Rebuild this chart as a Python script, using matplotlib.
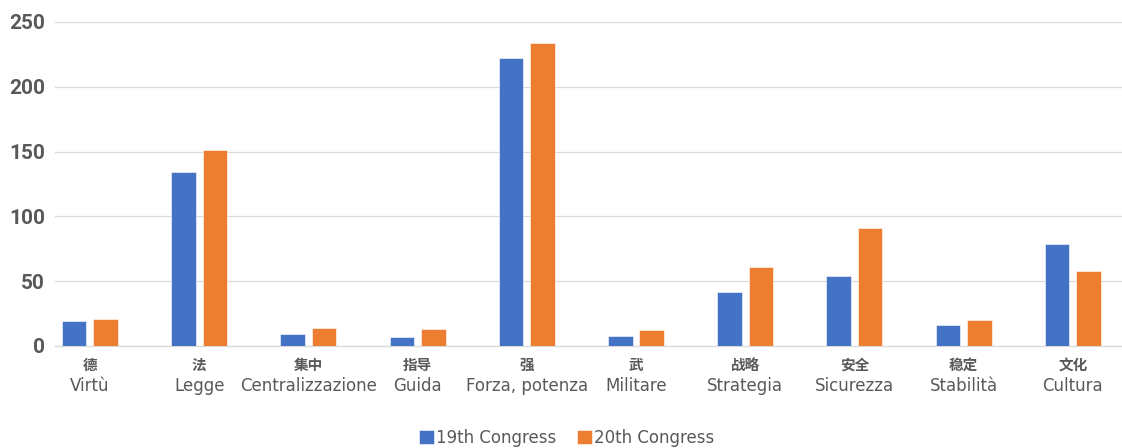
import numpy as np
import matplotlib.pyplot as plt

# Data
labels_zh = ["德", "法", "集中", "指导", "强", "武", "战略", "安全", "稳定", "文化"]
labels_it = ["Virtù", "Legge", "Centralizzazione", "Guida", "Forza, potenza",
             "Militare", "Strategia", "Sicurezza", "Stabilità", "Cultura"]
congress_19 = [19, 134, 9, 7, 222, 8, 42, 54, 16, 79]
congress_20 = [21, 151, 14, 13, 234, 12, 61, 91, 20, 58]

blue = "#4472C4"
orange = "#ED7D31"
grey = "#595959"

fig = plt.figure(figsize=(11.22, 4.48), dpi=100)
ax = fig.add_axes([0.049, 0.2277, 0.951, 0.7232])

x = np.arange(len(labels_it))
w = 0.224
off = 0.144
ax.bar(x - off, congress_19, w, color=blue, edgecolor="white", linewidth=0.4,
       label="19th Congress", zorder=3)
ax.bar(x + off, congress_20, w, color=orange, edgecolor="white", linewidth=0.4,
       label="20th Congress", zorder=3)

ax.set_xlim(-0.32, 9.45)
ax.set_ylim(0, 250)
ax.set_yticks(range(0, 251, 50))
ax.grid(axis="y", color="#D9D9D9", linewidth=0.9, zorder=0)
for s in ["top", "right", "left"]:
    ax.spines[s].set_visible(False)
ax.spines["bottom"].set_color("#D9D9D9")
ax.spines["bottom"].set_linewidth(0.9)
ax.tick_params(axis="y", length=0, pad=7, labelsize=15, labelcolor=grey)
for t in ax.get_yticklabels():
    t.set_fontweight("bold")
    t.set_family("Roboto")
ax.set_xticks([])

# two-line category labels: Chinese on top, Italian below
for i in x:
    ax.text(i, -0.058, labels_zh[i], transform=ax.get_xaxis_transform(),
            ha="center", va="center", fontsize=10.5, fontweight="bold",
            color=grey, family=["Noto Sans CJK SC", "DejaVu Sans"])
    ax.text(i, -0.124, labels_it[i], transform=ax.get_xaxis_transform(),
            ha="center", va="center", fontsize=12, color=grey)

fig.legend(loc="center", bbox_to_anchor=(0.505, 0.023), ncol=2, frameon=False,
           fontsize=12, handlelength=0.9, handleheight=0.9, handletextpad=0.15,
           columnspacing=1.2, labelcolor=grey)

fig.savefig("out.png", dpi=100)
